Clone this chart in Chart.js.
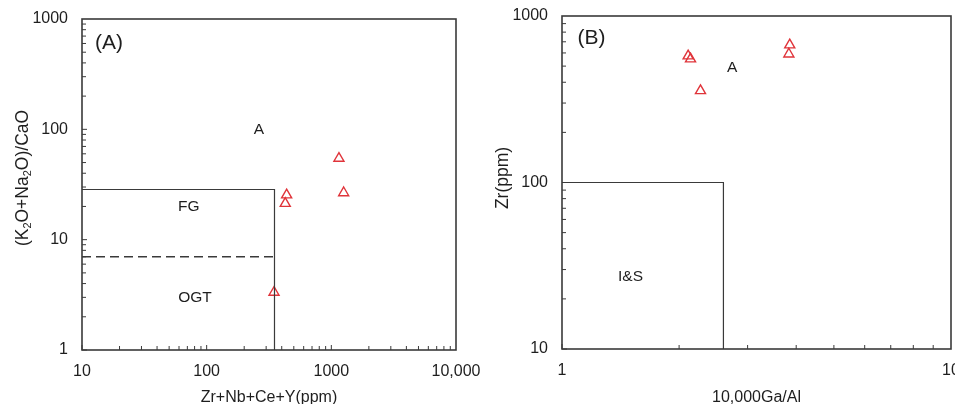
<!DOCTYPE html>
<html>
<head>
<meta charset="utf-8">
<script src="https://cdn.jsdelivr.net/npm/chart.js@4.4.1/dist/chart.umd.min.js"></script>
<style>
  body { margin: 0; background: #fff; width: 955px; height: 404px; overflow: hidden; position: relative; }
  canvas { position: absolute; top: 0; }
  #chartA { left: 0; }
  #chartB { left: 480px; }
</style>
</head>
<body>
<canvas id="chartA" width="480" height="404"></canvas>
<canvas id="chartB" width="495" height="404"></canvas>
<script>
// ---- Panel A: (K2O+Na2O)/CaO vs Zr+Nb+Ce+Y ----
const aSampleX = [1151, 1256, 438, 427, 347];
const aSampleY = [54.6, 26.6, 25.4, 21.3, 3.33];
const aFieldX = [10, 350, 350];        // FG / OGT outer boundary
const aFieldY = [28.5, 28.5, 1];
const aDashX = [10, 350];              // FG - OGT divide
const aDashY = [7, 7];
const aXTicks = [10, 100, 1000, 10000];
const aXTickLabels = ["10", "100", "1000", "10,000"];
const aYTicks = [1, 10, 100, 1000];
const aYTickLabels = ["1", "10", "100", "1000"];
const aFieldNames = ["(A)", "A", "FG", "OGT"];
const aFieldNameX = [16.5, 263, 72, 80.5];
const aFieldNameY = [603, 99, 19.8, 2.95];

// ---- Panel B: Zr vs 10000Ga/Al ----
const bSampleX = [2.11, 2.14, 2.27, 3.85, 3.83];
const bSampleY = [575, 552, 356, 670, 591];
const bFieldX = [1, 2.6, 2.6];         // I&S boundary
const bFieldY = [100, 100, 10];
const bXTicks = [1, 10];
const bXTickLabels = ["1", "10"];
const bYTicks = [10, 100, 1000];
const bYTickLabels = ["10", "100", "1000"];
const bFieldNames = ["(B)", "A", "I&S"];
const bFieldNameX = [1.19, 2.74, 1.5];
const bFieldNameY = [738, 487, 27];

const FONT = "'Liberation Sans', Arial, sans-serif";
const INK = "#1e1e1e";
const LINE = "#3a3a3a";
const RED = "#e0343a";

Chart.defaults.font.family = FONT;
Chart.defaults.color = INK;

function toPoints(xs, ys) {
  return xs.map((x, i) => ({ x: x, y: ys[i] }));
}

// draws a run of text with optional subscript parts, centred at (cx, cy), optionally rotated
function drawRich(ctx, parts, cx, cy, size, rotate) {
  const subSize = Math.round(size * 0.62);
  let w = 0;
  parts.forEach(p => {
    ctx.font = (p.sub ? subSize : size) + "px " + FONT;
    p.w = ctx.measureText(p.t).width;
    w += p.w;
  });
  ctx.save();
  ctx.translate(cx, cy);
  if (rotate) ctx.rotate(-Math.PI / 2);
  ctx.fillStyle = INK;
  ctx.textBaseline = "middle";
  ctx.textAlign = "left";
  let x = -w / 2;
  parts.forEach(p => {
    ctx.font = (p.sub ? subSize : size) + "px " + FONT;
    ctx.fillText(p.t, x, p.sub ? size * 0.3 : 0);
    x += p.w;
  });
  ctx.restore();
}

function panelPlugin(cfg) {
  return {
    id: "panel",
    afterDatasetsDraw(chart) {
      const ctx = chart.ctx;
      const xs = chart.scales.x, ys = chart.scales.y;
      ctx.save();
      ctx.fillStyle = INK;
      ctx.textAlign = "center";
      ctx.textBaseline = "middle";
      cfg.names.forEach((n, i) => {
        ctx.font = (n.charAt(0) === "(" ? 21 : 15.5) + "px " + FONT;
        ctx.fillText(n, xs.getPixelForValue(cfg.nameX[i]), ys.getPixelForValue(cfg.nameY[i]));
      });
      ctx.restore();
    },
    afterDraw(chart) {
      const ctx = chart.ctx;
      const a = chart.chartArea;
      const xs = chart.scales.x, ys = chart.scales.y;
      ctx.save();
      ctx.strokeStyle = LINE;
      ctx.lineWidth = 1.6;
      ctx.strokeRect(a.left, a.top, a.right - a.left, a.bottom - a.top);
      // inward ticks on the bottom and left axes
      ctx.lineWidth = 1;
      ctx.beginPath();
      [[xs, true], [ys, false]].forEach(([s, horiz]) => {
        for (let d = s.min; d < s.max * 0.999; d *= 10) {
          for (let k = 1; k <= 9; k++) {
            const px = s.getPixelForValue(k * d);
            const len = k === 1 ? 5 : 4;
            if (horiz) { ctx.moveTo(px, a.bottom); ctx.lineTo(px, a.bottom - len); }
            else { ctx.moveTo(a.left, px); ctx.lineTo(a.left + len, px); }
          }
        }
      });
      ctx.stroke();
      ctx.restore();
      drawRich(ctx, cfg.yTitle, 23, 178, 17.5, true);
      drawRich(ctx, cfg.xTitle, (a.left + a.right) / 2, 398, 16, false);
    }
  };
}

function makePanel(id, opt) {
  return new Chart(document.getElementById(id), {
    type: "scatter",
    data: {
      datasets: opt.lines.map(l => ({
        data: l.pts,
        showLine: true,
        borderColor: LINE,
        borderWidth: l.dash ? 1.4 : 1.2,
        borderDash: l.dash || [],
        pointRadius: 0,
        fill: false
      })).concat([{
        data: opt.samples,
        pointStyle: "triangle",
        pointRadius: 5.8,
        borderColor: RED,
        borderWidth: 1.4,
        backgroundColor: "rgba(0,0,0,0)"
      }])
    },
    options: {
      responsive: false,
      animation: false,
      events: [],
      layout: { padding: { top: opt.padTop, right: opt.padRight, left: 0, bottom: 0 } },
      plugins: { legend: { display: false }, tooltip: { enabled: false } },
      scales: {
        x: {
          type: "logarithmic",
          min: opt.xTicks[0],
          max: opt.xTicks[opt.xTicks.length - 1],
          grid: { display: false, drawTicks: false },
          border: { display: false },
          afterBuildTicks: s => { s.ticks = opt.xTicks.map(v => ({ value: v })); },
          afterFit: s => { s.height = opt.xHeight; s.paddingLeft = 0; s.paddingRight = 0; },
          ticks: {
            autoSkip: false, maxRotation: 0, padding: 12,
            font: { size: 16 }, color: INK,
            callback: (v, i) => opt.xLabels[i]
          }
        },
        y: {
          type: "logarithmic",
          min: opt.yTicks[0],
          max: opt.yTicks[opt.yTicks.length - 1],
          grid: { display: false, drawTicks: false },
          border: { display: false },
          afterBuildTicks: s => { s.ticks = opt.yTicks.map(v => ({ value: v })); },
          afterFit: s => { s.width = 82; s.paddingTop = 0; s.paddingBottom = 0; },
          ticks: {
            autoSkip: false, padding: 14,
            font: { size: 16 }, color: INK,
            callback: (v, i) => opt.yLabels[i]
          }
        }
      }
    },
    plugins: [panelPlugin(opt)]
  });
}

makePanel("chartA", {
  lines: [
    { pts: toPoints(aFieldX, aFieldY) },
    { pts: toPoints(aDashX, aDashY), dash: [9, 5] }
  ],
  samples: toPoints(aSampleX, aSampleY),
  xTicks: aXTicks, xLabels: aXTickLabels,
  yTicks: aYTicks, yLabels: aYTickLabels,
  names: aFieldNames, nameX: aFieldNameX, nameY: aFieldNameY,
  padTop: 19, padRight: 24, xHeight: 54,
  xTitle: [{ t: "Zr+Nb+Ce+Y(ppm)" }],
  yTitle: [{ t: "(K" }, { t: "2", sub: true }, { t: "O+Na" }, { t: "2", sub: true }, { t: "O)/CaO" }]
});

// panel B canvas runs past the window edge so the last tick label is cut like the original
makePanel("chartB", {
  lines: [{ pts: toPoints(bFieldX, bFieldY) }],
  samples: toPoints(bSampleX, bSampleY),
  xTicks: bXTicks, xLabels: bXTickLabels,
  yTicks: bYTicks, yLabels: bYTickLabels,
  names: bFieldNames, nameX: bFieldNameX, nameY: bFieldNameY,
  padTop: 16, padRight: 24, xHeight: 55,
  xTitle: [{ t: "10,000Ga/Al" }],
  yTitle: [{ t: "Zr(ppm)" }]
});
</script>
</body>
</html>
